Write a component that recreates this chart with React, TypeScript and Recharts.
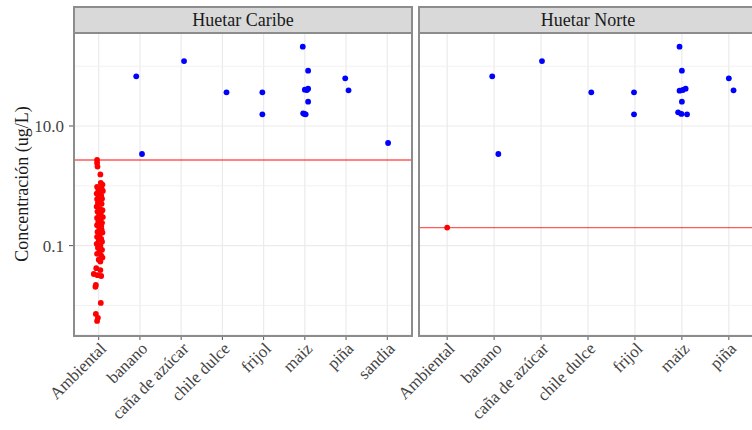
import React from 'react';
import {
  ScatterChart,
  Scatter,
  XAxis,
  YAxis,
  CartesianGrid,
  ReferenceLine,
} from 'recharts';

// Facet categories (x axis tick labels)
const caribeCategories = ['Ambiental', 'banano', 'caña de azúcar', 'chile dulce', 'frijol', 'maiz', 'piña', 'sandia'];
const norteCategories = ['Ambiental', 'banano', 'caña de azúcar', 'chile dulce', 'frijol', 'maiz', 'piña'];

// Y axis (log10)
const yTicks = [0.1, 10];
const yTickLabels = ['0.1', '10.0'];
const yMinorGrid = [0.01, 1, 100];
const yDomain = [0.0032, 359];

// Reference limits per region
const caribeLimit = 2.7;
const norteLimit = 0.2;

// Huetar Caribe - Ambiental samples (red), with horizontal jitter
const caribeAmbientalValues = [
  2.7, 2.4, 2.1, 1.55, 1.12, 1.05, 0.96, 0.9, 0.86, 0.82, 0.77, 0.74, 0.69, 0.66, 0.61, 0.6,
  0.56, 0.52, 0.5, 0.45, 0.41, 0.39, 0.37, 0.34, 0.33, 0.3, 0.29, 0.27, 0.25, 0.24, 0.22, 0.21,
  0.2, 0.185, 0.17, 0.165, 0.15, 0.14, 0.13, 0.125, 0.116, 0.107, 0.099, 0.092, 0.085, 0.079,
  0.073, 0.068, 0.063, 0.058, 0.054, 0.042, 0.039, 0.0335, 0.032, 0.031, 0.022, 0.0205, 0.011,
  0.0072, 0.0062, 0.0055,
];
const caribeAmbientalJitter = [
  -0.04, -0.04, -0.03, 0.04, 0.05, 0.09, -0.04, 0.07, -0.01, 0.1, 0.02, -0.05, 0.06, 0.0, 0.08,
  -0.04, 0.04, -0.02, 0.07, -0.05, 0.03, 0.09, -0.03, 0.05, 0.01, 0.1, -0.04, 0.04, -0.01, 0.08,
  -0.04, 0.06, 0.01, 0.07, -0.03, 0.09, 0.02, -0.04, 0.06, 0.0, 0.08, -0.05, 0.04, -0.02, 0.08,
  0.02, -0.04, 0.06, 0.09, 0.0, 0.04, -0.06, 0.04, -0.12, -0.03, 0.06, -0.07, -0.08, 0.05,
  -0.07, -0.02, -0.04,
];

// Huetar Caribe - crop samples (blue)
const caribeCultivoCategory = [2, 2, 3, 4, 5, 5, 6, 6, 6, 6, 6, 6, 6, 6, 6, 7, 7, 8];
const caribeCultivoJitter = [-0.09, 0.05, 0.07, 0.1, -0.03, -0.03, -0.05, 0.08, 0.0, 0.08, 0.05, 0.08, -0.04, -0.01, 0.02, -0.02, 0.06, 0.02];
const caribeCultivoValues = [67.8, 3.4, 122, 36.6, 36.6, 15.7, 212, 84.1, 40.5, 42.1, 40.0, 25.5, 16.3, 15.9, 15.7, 62.8, 39.5, 5.2];

// Huetar Norte - Ambiental sample (red)
const norteAmbientalValues = [0.2];
const norteAmbientalJitter = [0.0];

// Huetar Norte - crop samples (blue)
const norteCultivoCategory = [2, 2, 3, 4, 5, 5, 6, 6, 6, 6, 6, 6, 6, 6, 6, 7, 7];
const norteCultivoJitter = [-0.04, 0.09, 0.02, 0.07, -0.02, -0.02, -0.05, 0.0, -0.05, 0.02, 0.08, 0.0, -0.08, -0.01, 0.11, 0.0, 0.1];
const norteCultivoValues = [67.8, 3.4, 122, 36.6, 36.6, 15.7, 212, 84.1, 38.9, 40.0, 42.1, 25.5, 16.9, 15.9, 15.7, 62.8, 39.5];

const FONT = '"Liberation Serif", "Times New Roman", serif';
const GRID = '#ebebeb';
const BORDER = '#8c8c8c';

const caribeRed = caribeAmbientalValues.map((v, i) => ({ x: 1 + caribeAmbientalJitter[i], y: v }));
const caribeBlue = caribeCultivoValues.map((v, i) => ({ x: caribeCultivoCategory[i] + caribeCultivoJitter[i], y: v }));
const norteRed = norteAmbientalValues.map((v, i) => ({ x: 1 + norteAmbientalJitter[i], y: v }));
const norteBlue = norteCultivoValues.map((v, i) => ({ x: norteCultivoCategory[i] + norteCultivoJitter[i], y: v }));

const dot = (color: string) => (props: any) => (
  <circle cx={props.cx} cy={props.cy} r={2.9} fill={color} />
);

const makeXTick = (labels: string[]) => (props: any) => {
  const { x, y, payload } = props;
  return (
    <g transform={`translate(${x},${y})`}>
      <text
        transform="rotate(-45)"
        textAnchor="end"
        dy="0.71em"
        fontSize={17}
        fontFamily={FONT}
        fill="#444"
      >
        {labels[payload.value - 1]}
      </text>
    </g>
  );
};

function Panel({
  categories,
  red,
  blue,
  limit,
  showY,
  width,
  marginLeft,
}: {
  categories: string[];
  red: { x: number; y: number }[];
  blue: { x: number; y: number }[];
  limit: number;
  showY: boolean;
  width: number;
  marginLeft: number;
}) {
  const n = categories.length;
  const xTicks = categories.map((_, i) => i + 1);
  return (
    <ScatterChart
      width={width}
      height={430}
      margin={{ top: 33, right: width - marginLeft - (showY ? 74 : 0) - 338, bottom: 5, left: marginLeft }}
    >
      <CartesianGrid stroke={GRID} strokeWidth={1.2} />
      {yMinorGrid.map((v) => (
        <ReferenceLine key={v} y={v} stroke="#f1f1f1" strokeWidth={1} />
      ))}
      <XAxis
        type="number"
        dataKey="x"
        domain={[0.4, n + 0.6]}
        ticks={xTicks}
        interval={0}
        axisLine={false}
        tickLine={{ stroke: '#555' }}
        tickSize={5}
        tickMargin={1}
        height={90}
        tick={makeXTick(categories)}
      />
      <YAxis
        type="number"
        dataKey="y"
        scale="log"
        domain={yDomain}
        allowDataOverflow
        ticks={yTicks}
        tickFormatter={(v: number) => yTickLabels[yTicks.indexOf(v)]}
        hide={!showY}
        width={74}
        axisLine={false}
        tickLine={{ stroke: '#555' }}
        tickSize={5}
        tickMargin={5}
        tick={{ fontSize: 17, fontFamily: FONT, fill: '#444' }}
      />
      <Scatter data={blue} fill="#0000ff" shape={dot('#0000ff')} isAnimationActive={false} />
      <Scatter data={red} fill="#ff0000" shape={dot('#ff0000')} isAnimationActive={false} />
      <ReferenceLine y={limit} stroke="#ff0000" strokeOpacity={0.65} strokeWidth={1.3} />
    </ScatterChart>
  );
}

const stripStyle: React.CSSProperties = {
  position: 'absolute',
  top: 6,
  height: 28,
  boxSizing: 'border-box',
  background: '#d9d9d9',
  border: `2px solid ${BORDER}`,
  fontFamily: FONT,
  fontSize: 18,
  color: '#1a1a1a',
  textAlign: 'center',
  lineHeight: '24px',
};

const panelBorder: React.CSSProperties = {
  position: 'absolute',
  top: 32,
  height: 305,
  boxSizing: 'border-box',
  border: `2px solid ${BORDER}`,
  pointerEvents: 'none',
};

export default function App() {
  return (
    <div
      style={{
        position: 'absolute',
        left: 0,
        top: 0,
        width: 752,
        height: 430,
        overflow: 'hidden',
        background: '#fff',
      }}
    >
      <div style={{ position: 'absolute', left: 0, top: 0 }}>
        <Panel categories={caribeCategories} red={caribeRed} blue={caribeBlue} limit={caribeLimit} showY width={420} marginLeft={0} />
      </div>
      <div style={{ position: 'absolute', left: 360, top: 0 }}>
        <Panel categories={norteCategories} red={norteRed} blue={norteBlue} limit={norteLimit} showY={false} width={400} marginLeft={59} />
      </div>
      <div style={{ ...panelBorder, left: 73, width: 340 }} />
      <div style={{ ...panelBorder, left: 418, width: 340 }} />
      <div style={{ ...stripStyle, left: 73, width: 340 }}>Huetar Caribe</div>
      <div style={{ ...stripStyle, left: 418, width: 340 }}>Huetar Norte</div>
      <svg style={{ position: 'absolute', left: 0, top: 0 }} width={60} height={430}>
        <text
          transform="translate(28,184) rotate(-90)"
          textAnchor="middle"
          fontFamily={FONT}
          fontSize={18}
          fill="#1a1a1a"
        >
          Concentración (ug/L)
        </text>
      </svg>
    </div>
  );
}
